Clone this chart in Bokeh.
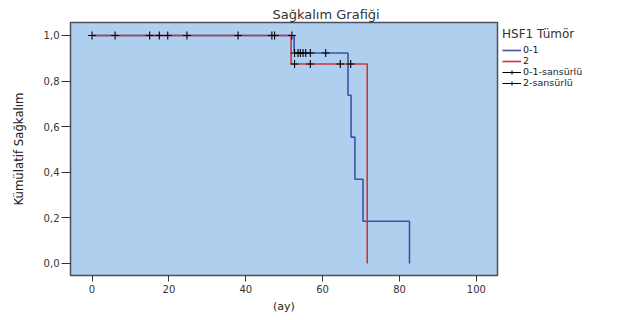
from bokeh.plotting import figure
from bokeh.models import Legend, LegendItem, FixedTicker, Range1d
from bokeh.embed import file_html
from bokeh.resources import INLINE

# Kaplan-Meier step data (months, survival)
g01_time = [0, 52.6, 66.6, 67.4, 68.4, 70.5, 82.6]
g01_surv = [1.0, 0.923, 0.738, 0.554, 0.369, 0.185, 0.0]
g2_time = [0, 51.8, 71.6]
g2_surv = [1.0, 0.875, 0.0]

# Censored observations
g01_cens_time = [0, 6, 15, 17.5, 19.7, 24.7, 38, 46.8, 47.5, 52.0,
                 52.7, 53.6, 54.2, 54.9, 55.6, 56.8, 60.8]
g01_cens_surv = [1.0] * 10 + [0.923] * 7
g2_cens_time = [52.7, 56.8, 64.6, 67.3]
g2_cens_surv = [0.875] * 4

y_ticks = [0.0, 0.2, 0.4, 0.6, 0.8, 1.0]
y_tick_labels = ["0,0", "0,2", "0,4", "0,6", "0,8", "1,0"]
x_ticks = [0, 20, 40, 60, 80, 100]

FONT = "DejaVu Sans"
NAN = float("nan")

p = figure(frame_width=427, frame_height=253, output_backend="svg", toolbar_location=None,
           x_range=Range1d(-5.6, 105.5), y_range=Range1d(-0.053, 1.057),
           min_border_left=70, min_border_right=0, min_border_top=22,
           min_border_bottom=30)

p.border_fill_color = "white"
p.background_fill_color = "#AED0EE"
p.outline_line_color = "#4A4F58"
p.outline_line_width = 1.5
p.grid.visible = False

p.title.text = "Sağkalım Grafiği"
p.title.align = "left"
p.title.text_font = FONT
p.title.text_font_style = "normal"
p.title.text_font_size = "13px"
p.title.text_color = "#333333"
p.title.offset = 202
p.title.standoff = 2

p.yaxis.ticker = FixedTicker(ticks=y_ticks)
p.yaxis.major_label_overrides = {t: l for t, l in zip(y_ticks, y_tick_labels)}
p.xaxis.ticker = FixedTicker(ticks=x_ticks)
for ax in (p.xaxis, p.yaxis):
    ax.axis_line_color = None
    ax.major_tick_line_color = "#333333"
    ax.minor_tick_line_color = None
    ax.major_tick_in = 0
    ax.major_label_text_font = FONT
    ax.major_label_text_font_size = "10px"
    ax.major_label_text_color = "#333333"
    ax.axis_label_text_font_style = "normal"
    ax.axis_label_text_color = "#222222"
p.yaxis.major_tick_out = 9
p.xaxis.major_tick_out = 6
p.yaxis.major_label_standoff = 2
p.xaxis.major_label_standoff = 3
p.xaxis.axis_label = "(ay)"
p.xaxis.axis_label_text_font = FONT
p.xaxis.axis_label_text_font_size = "11px"
p.xaxis.axis_label_standoff = 4
p.yaxis.axis_label = "Kümülatif Sağkalım"
p.yaxis.axis_label_text_font = "DejaVu Sans Condensed"
p.yaxis.axis_label_text_font_size = "13px"
p.yaxis.axis_label_standoff = 15

BLUE = "#4150A6"
RED = "#CC353C"

r_blue = p.step(g01_time, g01_surv, mode="after", line_color=BLUE, line_width=1.6)
r_red = p.step(g2_time, g2_surv, mode="after", line_color=RED, line_width=1.6)
c1 = p.scatter(g01_cens_time, g01_cens_surv, marker="cross", size=8,
               line_color="black", line_width=1.1)
c2 = p.scatter(g2_cens_time, g2_cens_surv, marker="cross", size=8,
               line_color="black", line_width=1.1)

# legend-only line renderers for censored items (no visible data)
lg1 = p.line([NAN], [NAN], line_color="black", line_width=1)
lg2 = p.line([NAN], [NAN], line_color="black", line_width=1)

legend = Legend(items=[
    LegendItem(label="0-1", renderers=[r_blue]),
    LegendItem(label="2", renderers=[r_red]),
    LegendItem(label="0-1-sansürlü", renderers=[lg1, c1]),
    LegendItem(label="2-sansürlü", renderers=[lg2, c2]),
], location="top_left")
legend.title = "HSF1 Tümör"
legend.title_text_font = FONT
legend.title_text_font_size = "12px"
legend.title_text_font_style = "normal"
legend.title_text_color = "#333333"
legend.title_standoff = 3
legend.label_text_font = FONT
legend.label_text_font_size = "9.5px"
legend.label_text_color = "#222222"
legend.label_height = 10
legend.label_standoff = 2
legend.glyph_height = 10
legend.glyph_width = 19
legend.spacing = 0
legend.padding = 1
legend.margin = 5
legend.border_line_color = None
legend.background_fill_alpha = 0
p.add_layout(legend, "right")

open("out.html", "w").write(file_html(p, INLINE))
